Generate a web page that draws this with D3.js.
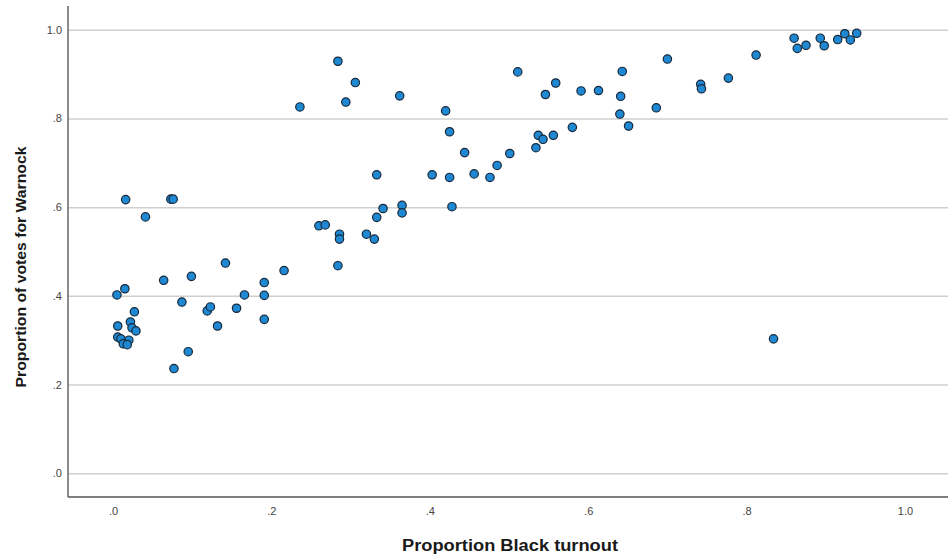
<!DOCTYPE html>
<html lang="en">
<head>
  <meta charset="UTF-8">
  <title>Warnock vote vs Black turnout</title>
  <style>
    body { margin: 0; background: #fff; }
    text { font-family: "Liberation Sans", Arial, sans-serif; }
    .tick text { fill: #444; font-size: 11px; }
    .grid line { stroke: #cfcfcf; stroke-width: 1.5; }
    .axis-title { fill: #1a1a1a; font-weight: bold; }
  </style>
</head>
<body>
  <div id="app"></div>

  <script src="https://cdn.jsdelivr.net/npm/d3@7"></script>
  <script>
    // proportion Black turnout (x) and proportion of votes for Warnock (y), one entry per county
    const turnout = [
      0.005, 0.015, 0.027, 0.006, 0.022, 0.024, 0.029, 0.006, 0.010, 0.020, 0.013, 0.018,
      0.016, 0.073, 0.076, 0.041, 0.064, 0.099, 0.087, 0.077, 0.095, 0.119, 0.123, 0.132,
      0.156, 0.166, 0.191, 0.191, 0.191, 0.216, 0.142,
      0.236, 0.284, 0.306, 0.294, 0.362, 0.260, 0.268, 0.286, 0.286, 0.284, 0.320, 0.330,
      0.333, 0.341, 0.365, 0.365, 0.333, 0.403, 0.420, 0.425, 0.425, 0.428, 0.444, 0.456,
      0.476, 0.485, 0.501,
      0.511, 0.546, 0.559, 0.591, 0.613, 0.643, 0.641, 0.640, 0.651, 0.580, 0.534, 0.537,
      0.543, 0.556, 0.686, 0.700, 0.742, 0.743, 0.777, 0.812, 0.860, 0.864, 0.875, 0.893,
      0.898, 0.915, 0.924, 0.931, 0.939, 0.834
    ]
    const warnock = [
      0.402, 0.416, 0.364, 0.332, 0.341, 0.328, 0.321, 0.307, 0.303, 0.300, 0.292, 0.290,
      0.617, 0.618, 0.618, 0.578, 0.435, 0.444, 0.386, 0.236, 0.274, 0.366, 0.375, 0.332,
      0.372, 0.402, 0.430, 0.401, 0.347, 0.457, 0.474,
      0.826, 0.929, 0.881, 0.837, 0.851, 0.558, 0.560, 0.539, 0.528, 0.468, 0.539, 0.528,
      0.577, 0.597, 0.604, 0.587, 0.673, 0.673, 0.817, 0.770, 0.667, 0.601, 0.723, 0.675,
      0.667, 0.694, 0.721,
      0.905, 0.854, 0.880, 0.862, 0.863, 0.906, 0.850, 0.810, 0.783, 0.780, 0.734, 0.762,
      0.753, 0.762, 0.824, 0.934, 0.877, 0.867, 0.891, 0.943, 0.981, 0.958, 0.965, 0.981,
      0.964, 0.978, 0.991, 0.977, 0.992, 0.303
    ]
    const yTicks = [0, 0.2, 0.4, 0.6, 0.8, 1.0]
    const xTicks = [0, 0.2, 0.4, 0.6, 0.8, 1.0]

    const width = 948, height = 560
    const m = { left: 68, right: 948, top: 6, bottom: 497 }

    const svg = d3.select('#app').append('svg')
      .attr('width', width)
      .attr('height', height)

    const x = d3.scaleLinear().domain([-0.0568, 1.0543]).range([m.left, m.right])
    const y = d3.scaleLinear().domain([-0.0536, 1.0536]).range([m.bottom, m.top])

    // SPSS style labels: ".2" rather than "0.2"
    const fmt = d => d === 1 ? '1.0' : d3.format('.1f')(d).replace(/^0/, '')

    // horizontal grid lines + y labels
    const yAxis = svg.append('g')
      .attr('class', 'grid')
      .attr('transform', `translate(${m.left},0)`)
      .call(d3.axisLeft(y).tickValues(yTicks).tickFormat(fmt)
        .tickSize(-(m.right - m.left)).tickPadding(6))
    yAxis.select('.domain').remove()
    yAxis.selectAll('.tick line').attr('x1', 0)

    // x labels, no tick marks
    const xAxis = svg.append('g')
      .attr('transform', `translate(0,${m.bottom})`)
      .call(d3.axisBottom(x).tickValues(xTicks).tickFormat(fmt).tickSize(0).tickPadding(10))
    xAxis.select('.domain').remove()

    // axis lines
    svg.append('line')
      .attr('x1', m.left).attr('x2', m.left)
      .attr('y1', m.top).attr('y2', m.bottom)
      .attr('stroke', '#666').attr('stroke-width', 1.5)
    svg.append('line')
      .attr('x1', m.left).attr('x2', m.right)
      .attr('y1', m.bottom).attr('y2', m.bottom)
      .attr('stroke', '#555').attr('stroke-width', 1.5)

    // points
    svg.append('g')
      .selectAll('circle')
      .data(d3.zip(turnout, warnock))
      .enter()
      .append('circle')
      .attr('cx', d => x(d[0]))
      .attr('cy', d => y(d[1]))
      .attr('r', 4.2)
      .attr('fill', '#1f88d2')
      .attr('stroke', '#17283a')
      .attr('stroke-width', 1.2)

    // titles
    svg.append('text')
      .attr('class', 'axis-title')
      .attr('x', 510)
      .attr('y', 551)
      .attr('text-anchor', 'middle')
      .attr('font-size', 16)
      .attr('textLength', 216)
      .attr('lengthAdjust', 'spacingAndGlyphs')
      .text('Proportion Black turnout')

    svg.append('text')
      .attr('class', 'axis-title')
      .attr('transform', 'translate(26,267) rotate(-90)')
      .attr('text-anchor', 'middle')
      .attr('font-size', 15.5)
      .attr('textLength', 241)
      .attr('lengthAdjust', 'spacingAndGlyphs')
      .text('Proportion of votes for Warnock')
  </script>
</body>
</html>
